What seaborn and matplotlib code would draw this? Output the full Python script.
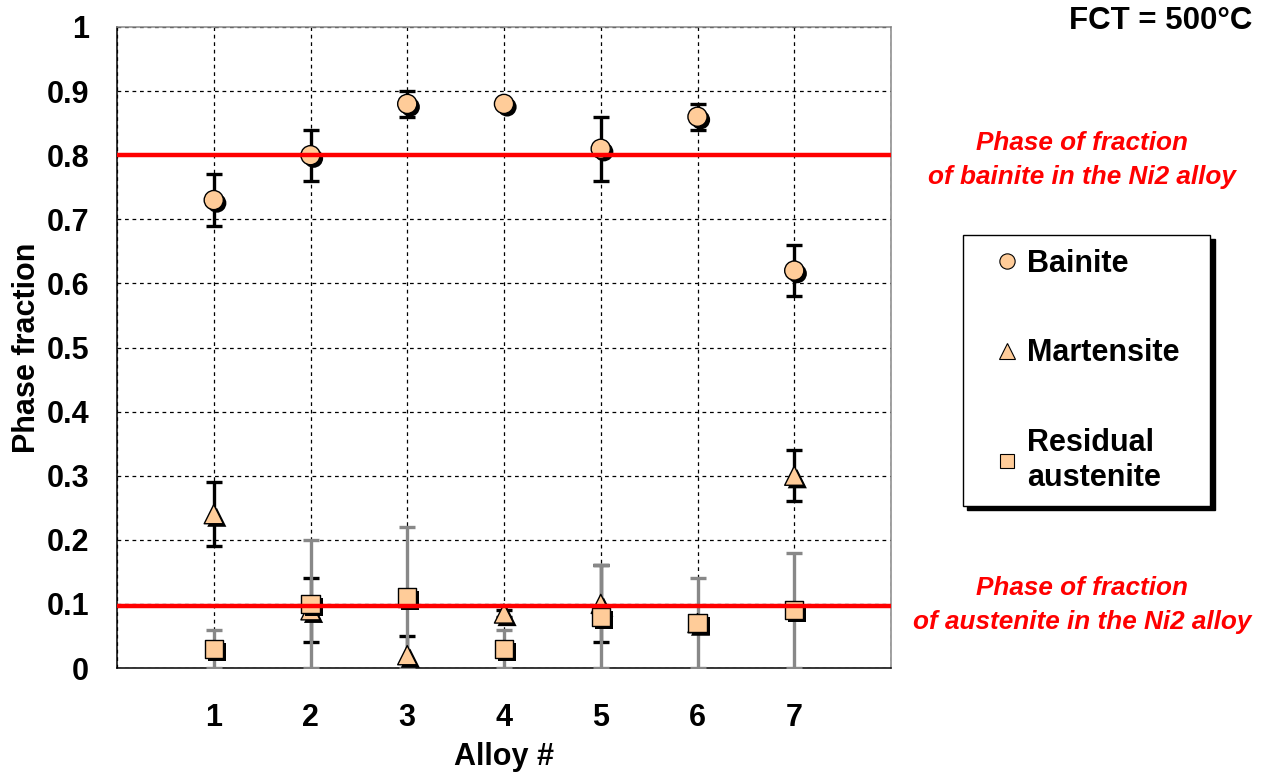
import numpy as np
import pandas as pd
import matplotlib
matplotlib.use("Agg")
import matplotlib.pyplot as plt
import matplotlib.patheffects as pe
from matplotlib.lines import Line2D
import seaborn as sns

alloys = [1, 2, 3, 4, 5, 6, 7]
bainite = [0.73, 0.80, 0.88, 0.88, 0.81, 0.86, 0.62]
bainite_err = [0.04, 0.04, 0.02, 0.005, 0.05, 0.02, 0.04]
martensite = [0.24, 0.09, 0.02, 0.085, 0.10, 0.07, 0.30]
martensite_err = [0.05, 0.05, 0.03, 0.005, 0.06, 0.01, 0.04]
austenite = [0.03, 0.10, 0.11, 0.03, 0.08, 0.07, 0.09]
austenite_err = [0.03, 0.10, 0.11, 0.03, 0.08, 0.07, 0.09]
ni2_bainite = 0.80
ni2_austenite = 0.097

sns.set_style("white")
plt.rcParams["font.family"] = ["Liberation Sans", "DejaVu Sans"]
plt.rcParams["font.weight"] = "bold"
for k in ["text.color", "axes.labelcolor", "xtick.color", "ytick.color"]:
    plt.rcParams[k] = "black"

fill = "#FFCC99"
shadow = [pe.SimplePatchShadow(offset=(2.2, -2.2), shadow_rgbFace="black", alpha=1.0), pe.Normal()]

fig = plt.figure(figsize=(12.61, 7.75), dpi=100)
ax = fig.add_axes([117 / 1261, 1 - 668 / 775, (891 - 117) / 1261, (668 - 27) / 775])

df = pd.DataFrame({"alloy": alloys, "bainite": bainite, "martensite": martensite, "austenite": austenite})

# error bars
ax.errorbar(alloys, bainite, yerr=bainite_err, fmt="none", ecolor="black", elinewidth=2.4, capsize=6, capthick=2.4, zorder=3)
ax.errorbar(alloys, martensite, yerr=martensite_err, fmt="none", ecolor="black", elinewidth=2.4, capsize=6, capthick=2.4, zorder=3)
ax.errorbar(alloys, austenite, yerr=austenite_err, fmt="none", ecolor="#888888", elinewidth=2.4, capsize=6, capthick=2.4, zorder=4)

# markers
for col, mk, s in [("bainite", "o", 190), ("martensite", "^", 190), ("austenite", "s", 170)]:
    sns.scatterplot(data=df, x="alloy", y=col, marker=mk, s=s, color=fill, edgecolor="black", linewidth=1.0, ax=ax, zorder=5)
    ax.collections[-1].set_path_effects(shadow)

# reference lines
ax.axhline(ni2_bainite, color="red", lw=3.2, zorder=6)
ax.axhline(ni2_austenite, color="red", lw=3.2, zorder=6)

ax.set_xlim(0, 8)
ax.set_ylim(0, 1)
ax.set_xticks(range(0, 9))
ax.set_xticklabels([""] + [str(a) for a in alloys] + [""])
ax.set_yticks(np.arange(0, 1.01, 0.1))
ax.set_yticklabels(["0"] + [f"{v:.1f}" for v in np.arange(0.1, 0.95, 0.1)] + ["1"])
ax.grid(True, color="black", linestyle=(0, (3, 3)), linewidth=0.9)
ax.set_axisbelow(True)
ax.tick_params(axis="both", direction="out", length=8, width=1, color="black", labelsize=22)
ax.tick_params(axis="x", pad=17)
ax.tick_params(axis="y", pad=12)
for side in ["left", "bottom"]:
    ax.spines[side].set_color("black")
    ax.spines[side].set_linewidth(1.1)
for side in ["top", "right"]:
    ax.spines[side].set_color("#888888")
    ax.spines[side].set_linewidth(1.1)

ax.set_xlabel("Alloy #", fontsize=22, fontweight="bold", labelpad=7)
ax.set_ylabel("Phase fraction", fontsize=22, fontweight="bold", labelpad=3)

fig.text(1252 / 1261, 1 - 21 / 775, "FCT = 500°C", ha="right", va="center", fontsize=22.5, fontweight="bold")
fig.text(1082 / 1261, 1 - 160 / 775, "Phase of fraction\nof bainite in the Ni2 alloy", ha="center", va="center",
         color="red", fontsize=18.8, fontweight="bold", fontstyle="italic", linespacing=1.55)
fig.text(1082 / 1261, 1 - 605 / 775, "Phase of fraction\nof austenite in the Ni2 alloy", ha="center", va="center",
         color="red", fontsize=18.8, fontweight="bold", fontstyle="italic", linespacing=1.55)

handles = [
    Line2D([], [], marker="o", ls="none", markersize=11, markerfacecolor=fill, markeredgecolor="black", markeredgewidth=0.8),
    Line2D([], [], marker="^", ls="none", markersize=11, markerfacecolor=fill, markeredgecolor="black", markeredgewidth=0.8),
    Line2D([], [], marker="s", ls="none", markersize=10, markerfacecolor=fill, markeredgecolor="black", markeredgewidth=0.8),
]
leg = fig.legend(handles, ["Bainite", "Martensite  ", "Residual\naustenite"], loc="upper left",
                 bbox_to_anchor=(963 / 1261, 1 - 235 / 775), frameon=True, fancybox=False,
                 shadow={"ox": 3, "oy": -3, "color": "black", "alpha": 1}, edgecolor="black",
                 prop={"size": 22, "weight": "bold"}, labelspacing=1.95, handlelength=2.0,
                 handletextpad=-0.35, borderpad=0.45, borderaxespad=0)
leg.get_frame().set_linewidth(1.0)

fig.savefig("out.png", dpi=100, facecolor="white")
